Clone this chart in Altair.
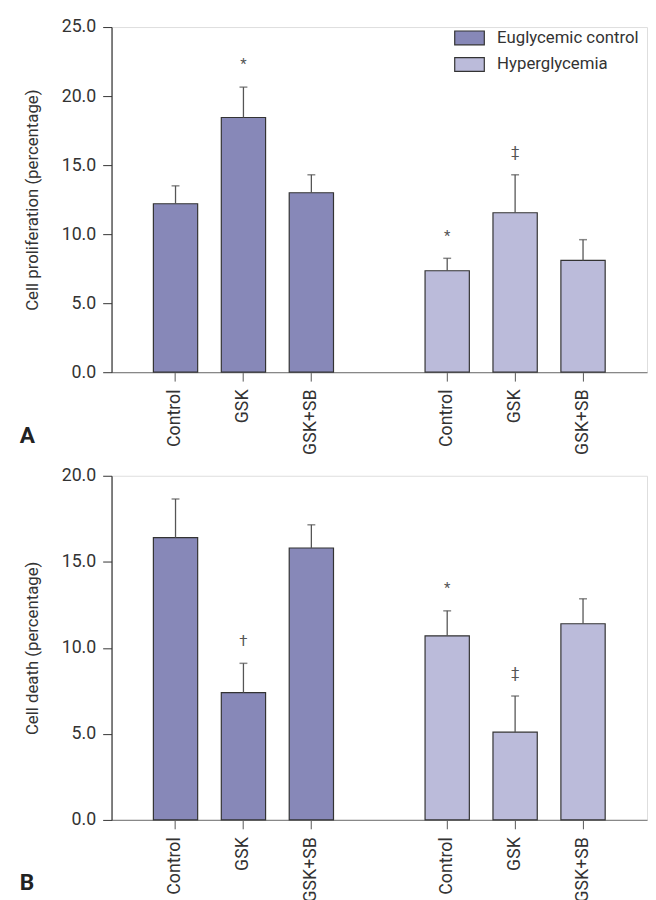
import altair as alt
import pandas as pd

# ---- data ----
slots = ["E|Control", "E|GSK", "E|GSK+SB", "gap", "H|Control", "H|GSK", "H|GSK+SB"]
groups = ["Euglycemic control"] * 3 + ["Hyperglycemia"] * 3
bar_slots = ["E|Control", "E|GSK", "E|GSK+SB", "H|Control", "H|GSK", "H|GSK+SB"]

prolif_mean = [12.2, 18.45, 13.0, 7.35, 11.55, 8.1]
prolif_err = [1.3, 2.2, 1.3, 0.9, 2.75, 1.5]
prolif_sig = ["", "*", "", "*", "‡", ""]

death_mean = [16.4, 7.4, 15.8, 10.7, 5.1, 11.4]
death_err = [2.25, 1.7, 1.35, 1.45, 2.1, 1.45]
death_sig = ["", "†", "", "*", "‡", ""]

group_names = ["Euglycemic control", "Hyperglycemia"]
group_colors = ["#8788B8", "#BBBBDA"]

FONT = "Roboto"


def panel(means, errs, sigs, ytitle, ymax, height, letter, legend_y):
    df = pd.DataFrame({
        "slot": bar_slots,
        "group": groups,
        "mean": means,
        "top": [m + e for m, e in zip(means, errs)],
        "sig": sigs,
    })
    x = alt.X(
        "slot:N",
        scale=alt.Scale(domain=slots, paddingInner=0.348, paddingOuter=0.616),
        axis=alt.Axis(
            values=bar_slots,
            labelExpr="split(datum.value, '|')[1]",
            labelAngle=-90,
            labelFont=FONT,
            labelFontSize=18,
            labelColor="#333",
            labelPadding=8,
            tickSize=9,
            tickColor="#555",
            domainColor="#888",
            domainWidth=1.2,
            title=None,
        ),
    )
    yscale = alt.Scale(domain=[0, ymax], nice=False)
    base = alt.Chart(df).encode(x=x)
    bars = base.mark_bar(stroke="#333", strokeWidth=1.2).encode(
        y=alt.Y(
            "mean:Q",
            scale=yscale,
            axis=alt.Axis(
                values=list(range(0, ymax + 1, 5)),
                format=".1f",
                grid=False,
                labelFont=FONT,
                labelFontSize=18,
                labelColor="#333",
                labelPadding=7,
                tickSize=9,
                tickColor="#333",
                domainColor="#333",
                domainWidth=1.2,
                title=ytitle,
                titleFont=FONT,
                titleFontSize=17,
                titleFontWeight="normal",
                titleColor="#333",
                titlePadding=20,
            ),
        ),
        color=alt.Color(
            "group:N",
            scale=alt.Scale(domain=group_names, range=group_colors),
            legend=alt.Legend(
                title=None,
                orient="none",
                legendX=347,
                legendY=legend_y,
                padding=0,
                symbolType="M -1 -0.467 H 1 V 0.467 H -1 Z",
                symbolSize=900,
                symbolStrokeColor="#333",
                symbolStrokeWidth=1.2,
                symbolOpacity=1,
                labelFont=FONT,
                labelFontSize=17,
                labelColor="#333",
                labelOffset=12,
                rowPadding=1,
            ),
        ),
    )
    err = base.mark_rule(color="#555", strokeWidth=1.3).encode(
        y=alt.Y("mean:Q", scale=yscale), y2="top:Q"
    )
    cap = base.mark_tick(color="#555", size=8, thickness=1.5).encode(
        y=alt.Y("top:Q", scale=yscale)
    )
    sig = base.mark_text(
        dy=-23, baseline="middle", font=FONT, fontSize=15, color="#555"
    ).encode(y=alt.Y("top:Q", scale=yscale), text="sig:N")
    return alt.layer(bars, err, cap, sig).properties(
        width=543,
        height=height,
        title=alt.TitleParams(
            letter,
            orient="bottom",
            anchor="start",
            frame="bounds",
            font=FONT,
            fontSize=23,
            fontWeight="bold",
            color="#222",
            offset=-30,
            dx=-4,
        ),
    )


chart_a = panel(prolif_mean, prolif_err, prolif_sig,
                "Cell proliferation (percentage)", 25, 350, "A", -5)
chart_b = panel(death_mean, death_err, death_sig,
                "Cell death (percentage)", 20, 349, "B", -4)

chart = alt.vconcat(chart_a, chart_b, spacing=11).properties(
    padding={"left": 11, "top": 3, "right": 0, "bottom": 0}
).configure_view(stroke=None).configure(background="white")

chart.save("out.html", embed_options={"renderer": "svg", "actions": False})
